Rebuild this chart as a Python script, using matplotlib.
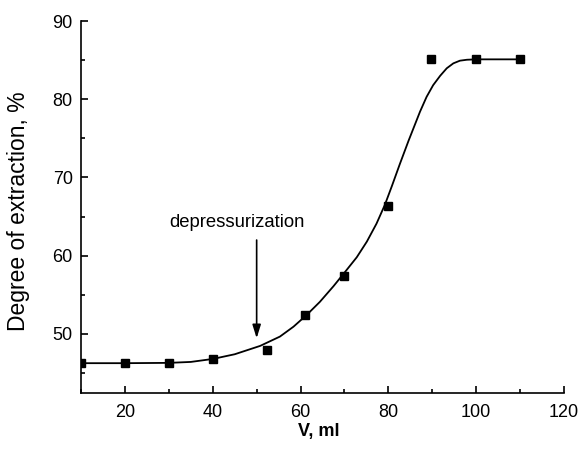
import numpy as np
import matplotlib
matplotlib.use('Agg')
import matplotlib.pyplot as plt
from matplotlib.ticker import MultipleLocator

plt.rcParams['font.family'] = ['Liberation Sans', 'DejaVu Sans']

# measured points
vol = [10, 20, 30, 40, 52.4, 61.1, 69.8, 79.9, 89.8, 100, 110]
extraction = [46.3, 46.3, 46.3, 46.8, 47.95, 52.4, 57.4, 66.3, 85.1, 85.1, 85.1]

# fitted curve
fit_v = [10, 20, 30, 35, 40, 45, 50.8, 55.3, 58.4, 61.4, 64.4, 67.5, 70.1,
         72.8, 75.1, 77.3, 79.2, 80.8, 82.6, 84.6, 87.2, 88.7, 90.2, 91.8,
         93.3, 94.8, 96.3, 97.9, 100.1, 110]
fit_y = [46.26, 46.26, 46.3, 46.42, 46.8, 47.4, 48.47, 49.66, 50.93, 52.43,
         54.1, 56.1, 57.9, 59.8, 61.8, 64.1, 66.5, 68.9, 71.7, 74.7, 78.4,
         80.3, 81.8, 83.0, 83.96, 84.59, 84.93, 85.05, 85.1, 85.1]

arrow_x = 50
arrow_from = 62.0
arrow_to = 49.45
note = 'depressurization'

fig = plt.figure(figsize=(5.8, 4.5), dpi=100)
ax = fig.add_axes([0.1397, 0.1267, 0.8327, 0.8266])

ax.plot(fit_v, fit_y, color='black', lw=1.3, zorder=2)
ax.plot(vol, extraction, 's', color='black', ms=6, zorder=3)

ax.annotate('', xy=(arrow_x, arrow_to), xytext=(arrow_x, arrow_from),
            arrowprops=dict(arrowstyle='-|>,head_length=0.8,head_width=0.25',
                            color='black', lw=1.2, shrinkA=0, shrinkB=0))
ax.text(45.5, 64.3, note, ha='center', va='center', fontsize=13.3)

ax.set_xlim(10, 120)
ax.set_ylim(42.45, 90)
ax.xaxis.set_major_locator(MultipleLocator(20))
ax.xaxis.set_minor_locator(MultipleLocator(10))
ax.yaxis.set_major_locator(MultipleLocator(10))
ax.yaxis.set_minor_locator(MultipleLocator(5))

for s in ['top', 'right']:
    ax.spines[s].set_visible(False)
for s in ['left', 'bottom']:
    ax.spines[s].set_linewidth(1.2)

ax.tick_params(which='major', direction='in', length=5, width=1.2, labelsize=13)
ax.tick_params(which='minor', direction='in', length=3, width=1.2)
ax.tick_params(axis='x', which='major', pad=8)
ax.tick_params(axis='y', which='major', pad=6)

ax.set_xlabel('V, ml', fontsize=13, fontweight='bold', va='top')
ax.xaxis.set_label_coords(0.493, -0.081)
ax.set_ylabel('Degree of extraction, %', fontsize=16.5)
ax.yaxis.set_label_coords(-0.106, 0.49)

fig.savefig('out.png', dpi=100)
